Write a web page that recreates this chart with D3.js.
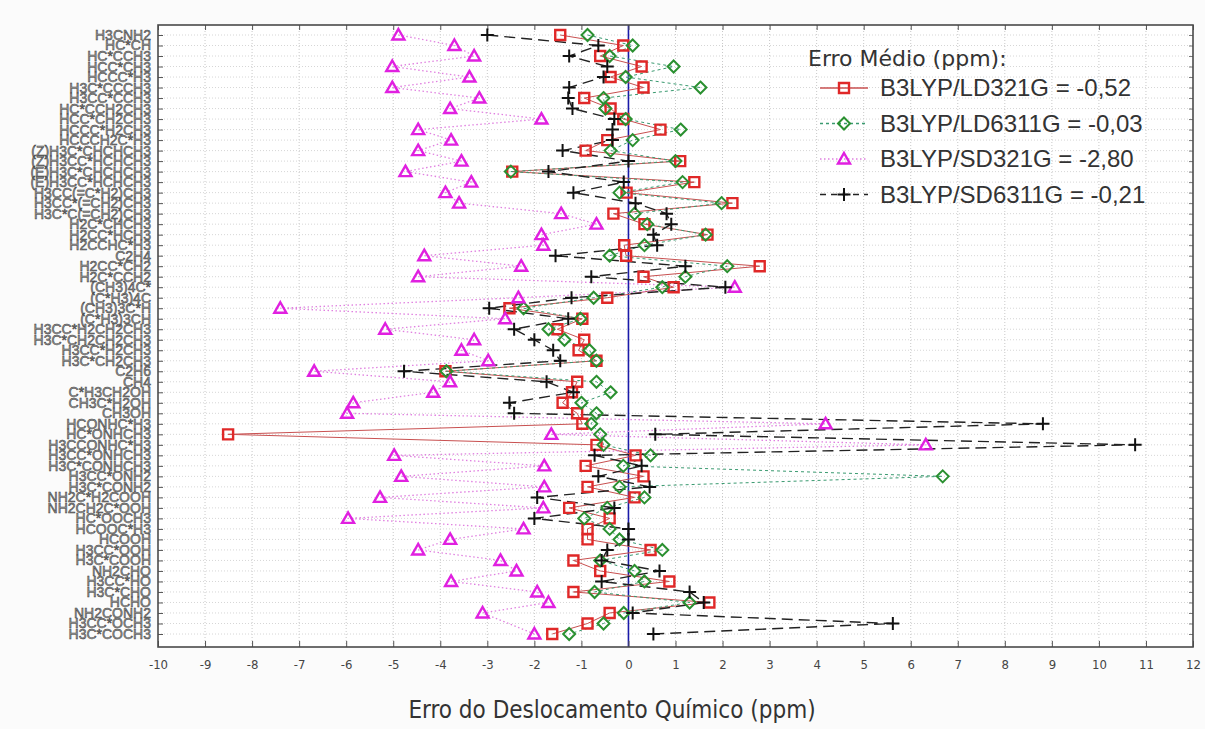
<!DOCTYPE html>
<html>
<head>
<meta charset="utf-8">
<script src="https://cdn.jsdelivr.net/npm/d3@7.9.0/dist/d3.min.js"></script>
<style>
  html, body { margin: 0; padding: 0; background: #fbfbfb; }
  svg { display: block; font-family: 'Liberation Sans', Arial, sans-serif; }
</style>
</head>
<body>
<div id="chart"></div>
<script>
/* ---------- data ---------- */
const molecules = [
  'H3CNH2', 'HC*CH', 'HC*CCH3', 'HCC*CH3', 'HCCC*H3', 'H3C*CCCH3', 'H3CC*CCH3',
  'HC*CCH2CH3', 'HCC*CH2CH3', 'HCCC*H2CH3', 'HCCCH2C*H3', '(Z)H3C*CHCHCH3',
  '(Z)H3CC*HCHCH3', '(E)H3C*CHCHCH3', '(E)H3CC*HCHCH3', 'H3CC(=C*H2)CH3',
  'H3CC*(=CH2)CH3', 'H3C*C(=CH2)CH3', 'H2C*CHCH3', 'H2CC*HCH3', 'H2CCHC*H3',
  'C2H4', 'H2CC*CH2', 'H2C*CCH2', '(CH3)4C*', '(C*H3)4C', '(CH3)3C*H',
  '(C*H3)3CH', 'H3CC*H2CH2CH3', 'H3C*CH2CH2CH3', 'H3CC*H2CH3', 'H3C*CH2CH3',
  'C2H6', 'CH4', 'C*H3CH2OH', 'CH3C*H2OH', 'CH3OH', 'HCONHC*H3', 'HC*ONHCH3',
  'H3CCONHC*H3', 'H3CC*ONHCH3', 'H3C*CONHCH3', 'H3CC*ONH2', 'H3C*CONH2',
  'NH2C*H2COOH', 'NH2CH2C*OOH', 'HC*OOCH3', 'HCOOC*H3', 'HCOOH', 'H3CC*OOH',
  'H3C*COOH', 'NH2CHO', 'H3CC*HO', 'H3C*CHO', 'HCHO', 'NH2CONH2', 'H3CC*OCH3',
  'H3C*COCH3'
];

const ld321 = [
  -1.45, -0.11, -0.60, 0.28, -0.38, 0.32, -0.94, -0.38, -0.11, 0.68,
  -0.45, -0.91, 1.10, -2.47, 1.40, -0.04, 2.21, -0.32, 0.34, 1.68,
  -0.09, -0.05, 2.79, 0.32, 0.96, -0.45, -2.53, -0.98, -1.51, -0.94,
  -1.06, -0.68, -3.89, -1.09, -1.20, -1.40, -1.09, -0.98, -8.51, -0.68,
  0.15, -0.91, 0.32, -0.87, 0.13, -1.26, -0.40, -0.87, -0.87, 0.47,
  -1.17, -0.60, 0.87, -1.17, 1.72, -0.40, -0.87, -1.62
];
const ld6311 = [
  -0.87, 0.09, -0.40, 0.96, -0.06, 1.53, -0.53, -0.49, -0.06, 1.11,
  0.09, -0.38, 1.00, -2.50, 1.15, -0.19, 1.98, 0.13, 0.40, 1.64,
  0.34, -0.40, 2.10, 1.21, 0.72, -0.74, -2.23, -1.02, -1.70, -1.36,
  -0.83, -0.68, -3.87, -0.68, -0.38, -1.00, -0.68, -0.79, -0.60, -0.53,
  0.47, -0.11, 6.68, -0.19, 0.34, -0.45, -0.94, -0.40, -0.19, 0.72,
  -0.60, 0.13, 0.34, -0.72, 1.30, -0.10, -0.53, -1.26
];
const sd321 = [
  -4.89, -3.70, -3.28, -5.02, -3.38, -5.02, -3.17, -3.79, -1.85, -4.47,
  -3.77, -4.47, -3.55, -4.74, -3.34, -3.89, -3.60, -1.43, -0.68, -1.85,
  -1.81, -4.34, -2.28, -4.47, 2.26, -2.34, -7.40, -2.62, -5.17, -3.28,
  -3.55, -2.98, -6.68, -3.79, -4.15, -5.85, -5.98, 4.19, -1.64, 6.32,
  -4.98, -1.79, -4.83, -1.79, -5.28, -1.81, -5.96, -2.23, -3.79, -4.47,
  -2.72, -2.38, -3.77, -1.94, -1.70, -3.10, null, -2.00
];
const sd6311 = [
  -3.00, -0.64, -1.26, -0.45, -0.53, -1.26, -1.28, -1.19, -0.30, -0.34,
  -0.34, -1.40, 0.00, -1.70, -0.10, -1.17, 0.15, 0.81, 0.91, 0.53,
  0.61, -1.55, 1.21, -0.79, 2.06, -1.21, -2.96, -1.28, -2.43, -2.00,
  -1.60, -1.45, -4.77, -1.74, -1.17, -2.53, -2.43, 8.81, 0.57, 10.77,
  -0.72, 0.28, -0.64, 0.45, -1.94, -0.30, -2.00, 0.00, 0.00, -0.45,
  -0.57, 0.66, -0.57, 1.30, 1.60, 0.09, 5.62, 0.53
];

const seriesNames = ['B3LYP/LD321G = -0,52', 'B3LYP/LD6311G = -0,03',
                     'B3LYP/SD321G = -2,80', 'B3LYP/SD6311G = -0,21'];
const xTicks = d3.range(-10, 13);

/* ---------- layout ---------- */
const W = 1205, H = 729;
const area = { l: 158, r: 1193, t: 25, b: 647 };

const svg = d3.select('#chart').append('svg')
  .attr('width', W).attr('height', H);

svg.append('rect')
  .attr('x', area.l).attr('y', area.t)
  .attr('width', area.r - area.l).attr('height', area.b - area.t)
  .attr('fill', '#fff');

const x = d3.scaleLinear().domain([-10, 12]).range([area.l, area.r]);
const y = d3.scalePoint().domain(molecules).range([35, 634]);

/* gridlines */
svg.append('g').selectAll('line').data(xTicks.slice(1, -1)).join('line')
  .attr('x1', d => x(d)).attr('x2', d => x(d))
  .attr('y1', area.t).attr('y2', area.b)
  .attr('stroke', '#c8c8c8').attr('stroke-dasharray', '1,2');
svg.append('g').selectAll('line').data(molecules).join('line')
  .attr('x1', area.l).attr('x2', area.r)
  .attr('y1', d => y(d)).attr('y2', d => y(d))
  .attr('stroke', '#d6d6d6').attr('stroke-dasharray', '1,2');

/* zero line */
svg.append('line')
  .attr('x1', x(0)).attr('x2', x(0)).attr('y1', area.t).attr('y2', area.b)
  .attr('stroke', '#1a1aa8').attr('stroke-width', 1.6);

/* axes */
const xAxis = svg.append('g').attr('transform', `translate(0,${area.b})`)
  .call(d3.axisBottom(x).tickValues(xTicks).tickSize(-6).tickPadding(13)
    .tickFormat(d => d));
xAxis.select('.domain').remove();
xAxis.selectAll('line').attr('stroke', '#555');
xAxis.selectAll('text').attr('font-size', 13).attr('fill', '#444')
  .style('font-family', 'DejaVu Sans').style('font-stretch', 'condensed');

const xTop = svg.append('g').attr('transform', `translate(0,${area.t})`)
  .call(d3.axisTop(x).tickValues(xTicks).tickSize(-5).tickFormat(''));
xTop.select('.domain').remove();
xTop.selectAll('line').attr('stroke', '#555');

const yAxis = svg.append('g').attr('transform', `translate(${area.l},0)`)
  .call(d3.axisLeft(y).tickSize(-5).tickPadding(7));
yAxis.select('.domain').remove();
yAxis.selectAll('line').attr('stroke', '#555');
yAxis.selectAll('text')
  .attr('font-size', 14).attr('fill', '#9a9a9a')
  .attr('stroke', '#3a3a3a').attr('stroke-width', 0.5);

const yRight = svg.append('g').attr('transform', `translate(${area.r},0)`)
  .call(d3.axisRight(y).tickSize(-4).tickFormat(''));
yRight.select('.domain').remove();
yRight.selectAll('line').attr('stroke', '#777');

svg.append('rect')
  .attr('x', area.l).attr('y', area.t)
  .attr('width', area.r - area.l).attr('height', area.b - area.t)
  .attr('fill', 'none').attr('stroke', '#4a4a4a').attr('stroke-width', 1.6);

svg.append('text')
  .attr('x', 612).attr('y', 718).attr('text-anchor', 'middle')
  .attr('font-size', 24).attr('fill', '#333')
  .style('font-family', 'DejaVu Sans').style('font-stretch', 'condensed')
  .text('Erro do Deslocamento Químico (ppm)');

/* ---------- series ---------- */
const diamond = 'M0,-6L6,0L0,6L-6,0Z';
const plus = 'M-6.5,0H6.5M0,-6.5V6.5';
const square = 'M-5,-5H5V5H-5Z';
const triangle = 'M0,-6L6,4.5H-6Z';

const series = [
  { vals: ld321,  color: '#e02828', line: '#c85050', dash: null,   lw: 1,   mark: square,   mw: 2.4 },
  { vals: ld6311, color: '#2a9030', line: '#3a9a70', dash: '3,3',  lw: 1,   mark: diamond,  mw: 2 },
  { vals: sd321,  color: '#e020e0', line: '#e080e0', dash: '1.5,2.5', lw: 1.3, mark: triangle, mw: 2.4 },
  { vals: sd6311, color: '#111',    line: '#222',    dash: '11,6', lw: 1.4, mark: plus,     mw: 2 }
];

const line = d3.line().x(d => x(d.v)).y(d => y(d.m));

series.forEach(s => {
  const pts = molecules.map((m, i) => ({ m, v: s.vals[i] })).filter(d => d.v != null);
  svg.append('path').datum(pts)
    .attr('d', line).attr('fill', 'none')
    .attr('stroke', s.line).attr('stroke-width', s.lw)
    .attr('stroke-dasharray', s.dash);
});
series.forEach(s => {
  const pts = molecules.map((m, i) => ({ m, v: s.vals[i] })).filter(d => d.v != null);
  svg.append('g').selectAll('path').data(pts).join('path')
    .attr('transform', d => `translate(${x(d.v)},${y(d.m)})`)
    .attr('d', s.mark).attr('fill', 'none')
    .attr('stroke', s.color).attr('stroke-width', s.mw);
});

/* ---------- legend ---------- */
const lg = svg.append('g').attr('transform', 'translate(808,0)');
lg.append('text').attr('x', 0).attr('y', 66)
  .attr('font-size', 22).attr('fill', '#333')
  .style('font-family', 'DejaVu Sans')
  .text('Erro Médio (ppm):');
series.forEach((s, i) => {
  const cy = 88 + i * 35.5;
  lg.append('line').attr('x1', 12).attr('x2', 60).attr('y1', cy).attr('y2', cy)
    .attr('stroke', s.line).attr('stroke-width', s.lw + 0.3)
    .attr('stroke-dasharray', s.dash ? (i === 3 ? '6,5' : s.dash) : null);
  lg.append('path').attr('transform', `translate(36,${cy})`)
    .attr('d', s.mark).attr('fill', 'none')
    .attr('stroke', s.color).attr('stroke-width', s.mw);
  lg.append('text').attr('x', 72).attr('y', cy + 8)
    .attr('font-size', 24).attr('fill', '#333').text(seriesNames[i]);
});
</script>
</body>
</html>
